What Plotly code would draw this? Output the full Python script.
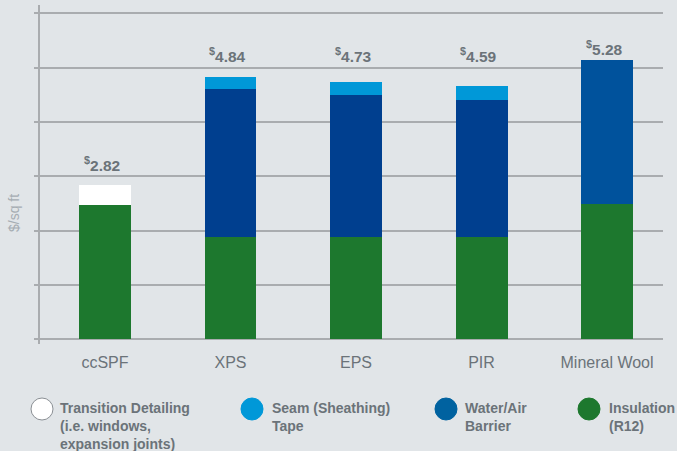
import plotly.graph_objects as go

categories = ["ccSPF", "XPS", "EPS", "PIR", "Mineral Wool"]
insulation = [2.47, 1.88, 1.88, 1.88, 2.49]
water_air_barrier = [0.0, 2.72, 2.61, 2.52, 2.64]
seam_tape = [0.0, 0.22, 0.24, 0.26, 0.0]
transition_detailing = [0.36, 0.0, 0.0, 0.0, 0.0]
total_labels = ["2.82", "4.84", "4.73", "4.59", "5.28"]
legend_names = [
    "Transition Detailing<br>(i.e. windows,<br>expansion joints)",
    "Seam (Sheathing)<br>Tape",
    "Water/Air<br>Barrier",
    "Insulation<br>(R12)",
]

W, H = 677, 451
ML, MR, MT, MB = 40, 14, 5, 107
PW, PH = W - ML - MR, H - MT - MB

def px_x(p):
    return (p - ML) / PW

def px_y(p):
    return (H - MB - p) / PH

BG = "#e1e5e8"
GRID = "#a9acaf"
TXT = "#6b7379"
GREEN = "#1d782e"
NAVY = "#003f8f"
NAVY2 = "#00529c"
LIGHT = "#0098d8"
LEG_BLUE = "#0062a0"

fig = go.Figure()
fig.add_bar(x=categories, y=insulation, marker_color=GREEN, name="Insulation")
fig.add_bar(x=categories, y=water_air_barrier,
            marker_color=[NAVY, NAVY, NAVY, NAVY, NAVY2], name="Water/Air Barrier")
fig.add_bar(x=categories, y=seam_tape, marker_color=LIGHT, name="Seam Tape")
fig.add_bar(x=categories, y=transition_detailing, marker_color="#ffffff",
            name="Transition Detailing")
for tr in fig.data:
    tr.marker.line.width = 0
    tr.showlegend = False
    tr.hoverinfo = "skip"

totals = [a + b + c + d for a, b, c, d in zip(insulation, water_air_barrier, seam_tape, transition_detailing)]
label_shift = [21, 22, 27, 31, 12]
annotations = []
for cat, tot, lab, sh in zip(categories, totals, total_labels, label_shift):
    annotations.append(dict(
        x=cat, y=tot, xref="x", yref="y", yanchor="middle", yshift=sh, xshift=-3,
        text=f"<b><sup>$</sup>{lab}</b>", showarrow=False,
        font=dict(family="Liberation Sans, Arial", size=15.5, color=TXT)))

annotations.append(dict(
    x=px_x(14), y=px_y(213), xref="paper", yref="paper", textangle=-90,
    text="$/sq ft", showarrow=False, xanchor="center", yanchor="middle",
    font=dict(family="Liberation Sans, Arial", size=14, color="#a6adb3")))

leg_circle_x = [42, 252, 446, 589]
leg_text_x = [58, 270, 463, 607]
leg_fill = ["#ffffff", LIGHT, LEG_BLUE, GREEN]
leg_line = ["#8a8f94", LIGHT, LEG_BLUE, GREEN]
shapes = []
for cx, tx, nm, fc, lc in zip(leg_circle_x, leg_text_x, legend_names, leg_fill, leg_line):
    shapes.append(dict(type="circle", xref="paper", yref="paper",
                       xsizemode="pixel", ysizemode="pixel",
                       xanchor=px_x(cx), yanchor=px_y(409),
                       x0=-11, x1=11, y0=-11, y1=11,
                       fillcolor=fc, line=dict(color=lc, width=1)))
    annotations.append(dict(
        x=px_x(tx), y=px_y(398), xref="paper", yref="paper",
        xanchor="left", yanchor="top", align="left", showarrow=False,
        text=f"<b>{nm}</b>",
        font=dict(family="Liberation Sans, Arial", size=14, color=TXT)))

fig.update_layout(
    width=W, height=H,
    margin=dict(l=ML, r=MR, t=MT, b=MB, pad=0),
    paper_bgcolor=BG, plot_bgcolor=BG,
    barmode="stack", bargap=0.586,
    annotations=annotations, shapes=shapes,
    showlegend=False,
    xaxis=dict(range=[-0.518, 4.446], showgrid=False, zeroline=False, showline=False,
               ticks="outside", ticklen=4, tickcolor=BG,
               tickfont=dict(family="Liberation Sans, Arial", size=16, color=TXT)),
    yaxis=dict(range=[-0.086, 6.15], dtick=1, tick0=0, showticklabels=False,
               showgrid=True, gridcolor=GRID, gridwidth=2,
               zeroline=True, zerolinecolor=GRID, zerolinewidth=2,
               showline=True, linecolor=GRID, linewidth=2,
               ticks="outside", ticklen=4, tickcolor=GRID, tickwidth=2),
)

fig.write_html("out.html", config={"displayModeBar": False},
               post_script="document.body.style.margin='0px';")
